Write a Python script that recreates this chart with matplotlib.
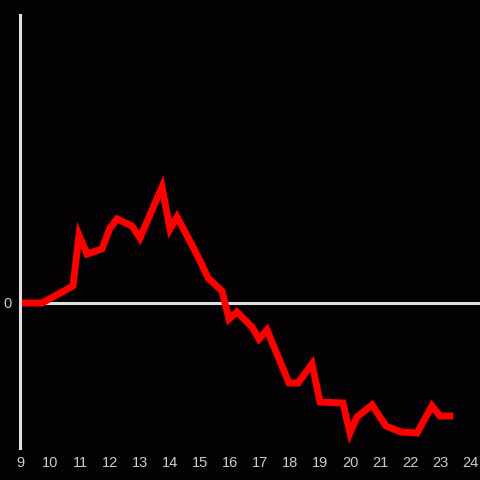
import matplotlib
matplotlib.use("Agg")
import matplotlib.pyplot as plt

# hours of the day and the value at each point
hours = [9.0, 9.733, 10.767, 10.967, 11.233, 11.733, 12.0, 12.233, 12.733, 13.0,
         13.733, 14.0, 14.233, 14.733, 15.1, 15.267, 15.733, 15.967, 16.233, 16.733,
         16.967, 17.233, 17.967, 18.267, 18.733, 19.0, 19.767, 20.0, 20.233, 20.733,
         21.2, 21.7, 22.233, 22.733, 23.0, 23.333]
values = [0, 0, 17, 68, 49, 54, 75, 84, 77, 65,
          116, 74, 86, 58, 36, 25, 12, -16, -9, -24,
          -36, -27, -80, -80, -61, -99, -100, -130, -114, -102,
          -123, -129, -130, -103, -113, -113]
xticks = list(range(9, 25))

bg = "#040205"
fig = plt.figure(figsize=(4.8, 4.8), dpi=100, facecolor=bg)
ax = fig.add_axes([20/480, 32/480, 460/480, 433/480], facecolor=bg)

ax.axhline(0, color="#e0e0e0", lw=2.2, zorder=1)
ax.plot(hours, values, color="#ff0000", lw=5, zorder=2, solid_joinstyle="miter")

ax.set_xlim(9, 24 + 10/30)
ax.set_ylim(-145, 288)
ax.set_xticks(xticks)
ax.set_xticklabels([str(t) for t in xticks])
ax.set_yticks([0])
ax.set_yticklabels(["0"])
ax.tick_params(length=0, colors="#cccccc", labelsize=10.5, pad=6)
for lab in ax.get_xticklabels() + ax.get_yticklabels():
    lab.set_family("Liberation Sans")

for s in ["top", "right", "bottom"]:
    ax.spines[s].set_visible(False)
ax.spines["left"].set_color("#e0e0e0")
ax.spines["left"].set_linewidth(2.2)

fig.savefig("out.png", dpi=100, facecolor=bg)
